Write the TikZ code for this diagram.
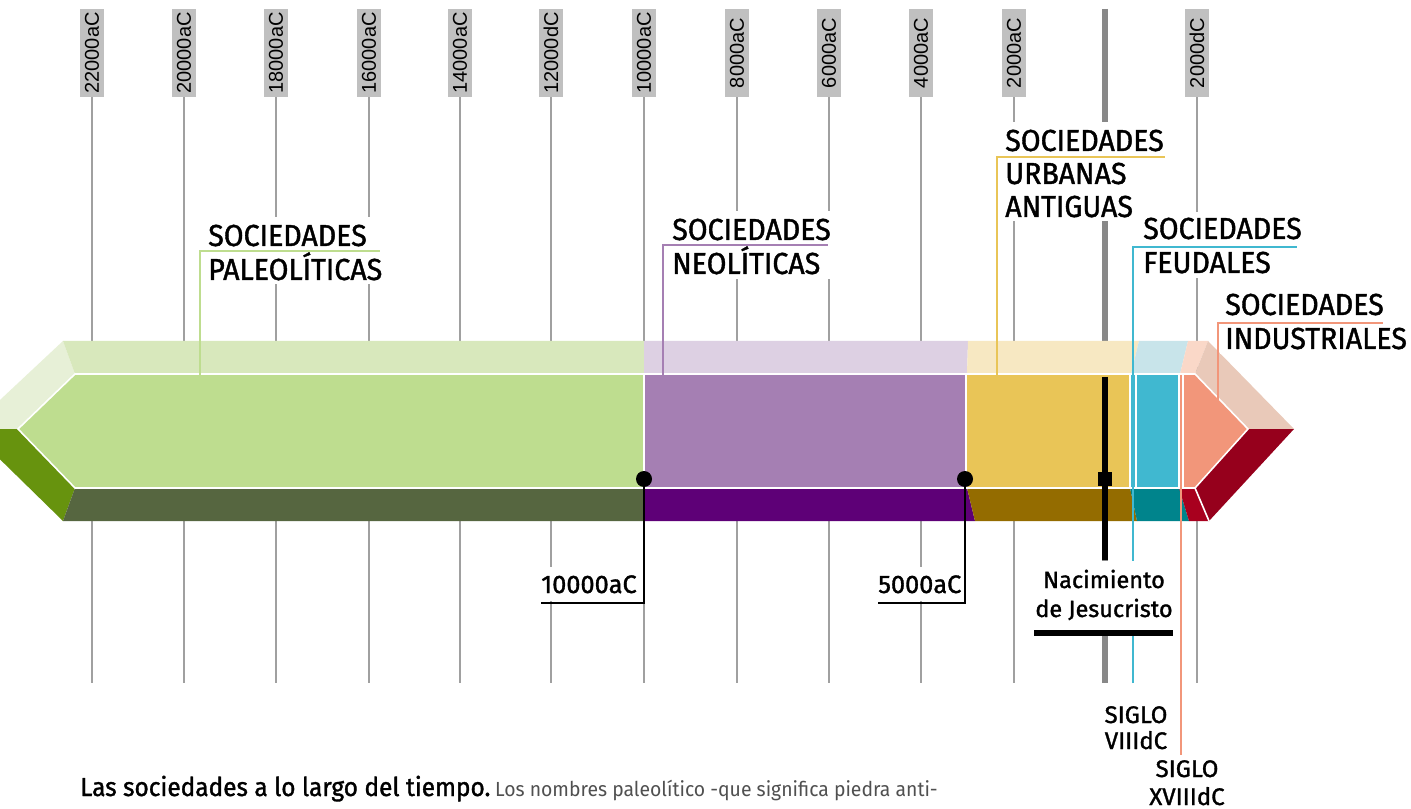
\documentclass[tikz,border=0pt]{standalone}
\usepackage{fontspec}
\setmainfont{Fira Sans}
\newfontfamily\tickfont{Liberation Sans}
\newfontfamily\socfont[FakeBold=1.3, FakeStretch=0.94]{Fira Sans}
\newfontfamily\medfont[FakeBold=1.3]{Fira Sans}
\newfontfamily\capfont[FakeStretch=0.95]{Fira Sans}
\definecolor{palM}{HTML}{BEDD8F}
\definecolor{palT}{HTML}{D8E8BC}
\definecolor{palB}{HTML}{566640}
\definecolor{palLT}{HTML}{E7F0D7}
\definecolor{palLB}{HTML}{67930E}
\definecolor{neoM}{HTML}{A57FB3}
\definecolor{neoT}{HTML}{DDD0E3}
\definecolor{neoB}{HTML}{5E0077}
\definecolor{urbM}{HTML}{E9C557}
\definecolor{urbT}{HTML}{F7E8C2}
\definecolor{urbB}{HTML}{946C00}
\definecolor{feuM}{HTML}{40B8D0}
\definecolor{feuT}{HTML}{C8E4EA}
\definecolor{feuB}{HTML}{00848C}
\definecolor{indM}{HTML}{F2967A}
\definecolor{indT}{HTML}{FAD8C8}
\definecolor{indB}{HTML}{A8001E}
\definecolor{indRT}{HTML}{E9C9B9}
\definecolor{indRB}{HTML}{96001C}
\definecolor{tickgray}{HTML}{A0A0A0}
\definecolor{boxgray}{HTML}{C0C0C0}
\definecolor{axisgray}{HTML}{888888}
\definecolor{capgray}{HTML}{505050}
\tikzset{
  tickline/.style={draw=tickgray, line width=0.9pt},
  tlabel/.style={fill=boxgray, rotate=90, font=\tickfont\fontsize{15}{15}\selectfont,
    minimum width=66pt, minimum height=18pt, inner sep=0pt},
  conn/.style={line width=2pt},
  soc/.style={anchor=base west, inner sep=0pt, font=\socfont\fontsize{22.8}{24}\selectfont},
  yearlbl/.style={inner sep=0pt, font=\medfont\fontsize{19}{20}\selectfont},
  siglo/.style={anchor=base, inner sep=0pt, font=\medfont\fontsize{18}{18}\selectfont},
  nac/.style={anchor=base, inner sep=0pt, font=\medfont\fontsize{17.6}{18}\selectfont},
  sep/.style={draw=white, line width=1.2pt},
  dot/.style={circle, fill=black, minimum size=12pt, inner sep=0pt},
}
\begin{document}
\begin{tikzpicture}[x=0.75pt, y=-0.75pt]
\clip (0,0) rectangle (1411,809);
\fill[white] (0,0) rectangle (1411,809);
% ticks and year boxes
\foreach \x/\t [count=\i] in {92/22000aC,184/20000aC,276/18000aC,369/16000aC,460/14000aC,551/12000dC,644/10000aC,737/8000aC,829/6000aC,921/4000aC,1014/2000aC,1197/2000dC}{
  \node[tlabel] (t\i) at (\x,53) {\t};
  \coordinate (b\i) at (\x,683);
  \draw[tickline] (t\i.west) -- (b\i);
}
\coordinate (gtop) at (1105,9);
\coordinate (gbot) at (1105,683);
\draw[draw=axisgray, line width=4.5pt] (gtop) -- (gbot);
% band: left bevel
\fill[palLT] (-31,429) -- (63,341) -- (75,374) -- (18,429) -- cycle;
\fill[palLB] (-31,429) -- (18,429) -- (75,488) -- (63,521) -- cycle;
% top strip
\fill[palT] (63,341) -- (644,341) -- (644,374) -- (75,374) -- cycle;
\fill[neoT] (644,341) -- (968,341) -- (967,374) -- (644,374) -- cycle;
\fill[urbT] (968,341) -- (1139,341) -- (1131,374) -- (967,374) -- cycle;
\fill[feuT] (1139,341) -- (1188,341) -- (1180,374) -- (1131,374) -- cycle;
\fill[indT] (1188,341) -- (1208,341) -- (1195,374) -- (1180,374) -- cycle;
% right bevel
\fill[indRT] (1208,341) -- (1294,429) -- (1248,429) -- (1195,374) -- cycle;
\fill[indRB] (1195,488) -- (1248,429) -- (1294,429) -- (1209,521) -- cycle;
% bottom strip
\fill[palB] (75,488) -- (644,488) -- (644,521) -- (63,521) -- cycle;
\fill[neoB] (644,488) -- (967,488) -- (975,521) -- (644,521) -- cycle;
\fill[urbB] (967,488) -- (1130,488) -- (1137,521) -- (975,521) -- cycle;
\fill[feuB] (1130,488) -- (1179,488) -- (1189,521) -- (1137,521) -- cycle;
\fill[indB] (1179,488) -- (1195,488) -- (1209,521) -- (1189,521) -- cycle;
% main face
\fill[palM] (18,429) -- (75,374) -- (644,374) -- (644,488) -- (75,488) -- cycle;
\fill[neoM] (644,374) -- (966,374) -- (966,488) -- (644,488) -- cycle;
\fill[urbM] (966,374) -- (1131,374) -- (1131,488) -- (966,488) -- cycle;
\fill[feuM] (1131,374) -- (1180,374) -- (1180,488) -- (1131,488) -- cycle;
\fill[indM] (1180,374) -- (1195,374) -- (1248,429) -- (1195,488) -- (1180,488) -- cycle;
% white edges
\draw[sep] (75,374) -- (18,429) -- (75,488) -- (1195,488) -- (1248,429) -- (1195,374) -- cycle;
\draw[sep] (1195,488) -- (1209,521);
\foreach \x in {644,966,1130,1136,1179,1183}{ \draw[sep] (\x,374) -- (\x,488); }
% white backgrounds of labels
\fill[white] (202,217) rectangle (388,284);
\fill[white] (666,211) rectangle (835,279);
\fill[white] (1000,122) rectangle (1168,221);
\fill[white] (1138,212) rectangle (1303,278);
\fill[white] (1220,288) rectangle (1411,354);
% society labels
\node[soc] (pal1) at (208,246) {SOCIEDADES};
\node[soc] (pal2) at (208,280) {PALEOLÍTICAS};
\node[soc] (neo1) at (672,240) {SOCIEDADES};
\node[soc] (neo2) at (672,274) {NEOLÍTICAS};
\node[soc] (urb1) at (1005,151) {SOCIEDADES};
\node[soc] (urb2) at (1005,184) {URBANAS};
\node[soc] (urb3) at (1005,217) {ANTIGUAS};
\node[soc] (feu1) at (1143,239) {SOCIEDADES};
\node[soc] (feu2) at (1143,273) {FEUDALES};
\node[soc] (ind1) at (1225,315) {SOCIEDADES};
\node[soc] (ind2) at (1225,349) {INDUSTRIALES};
% connectors
\coordinate (palA) at (200,375); \coordinate (palB1) at (200,251); \coordinate (palC) at (380,251);
\draw[conn, draw=palM] (palA) -- (palB1) -- (palC);
\coordinate (neoA) at (663,375); \coordinate (neoB1) at (663,245); \coordinate (neoC) at (828,245);
\draw[conn, draw=neoM] (neoA) -- (neoB1) -- (neoC);
\coordinate (urbA) at (997,375); \coordinate (urbB1) at (997,157); \coordinate (urbC) at (1165,157);
\draw[conn, draw=urbM] (urbA) -- (urbB1) -- (urbC);
\coordinate (feuA) at (1133,683); \coordinate (feuB1) at (1133,247); \coordinate (feuC) at (1297,247);
\draw[conn, draw=feuM] (feuA) -- (feuB1) -- (feuC);
\coordinate (indA) at (1218,401); \coordinate (indB1) at (1218,323); \coordinate (indC) at (1383,323);
\draw[conn, draw=indM] (indA) -- (indB1) -- (indC);
\coordinate (xviiiA) at (1181,375); \coordinate (xviiiB) at (1181,755);
\draw[conn, draw=indM] (xviiiA) -- (xviiiB);
% bottom label backgrounds
\fill[white] (541,567) rectangle (641,601);
\fill[white] (876,567) rectangle (962,601);
\fill[white] (1036,561) rectangle (1172,630);
% year markers
\node[dot] (d1) at (644,479) {};
\coordinate (d1a) at (644,603); \coordinate (d1b) at (541,603);
\draw[conn, draw=black] (d1.center) -- (d1a) -- (d1b);
\node[yearlbl, anchor=base east] (y1) at (637,593) {10000aC};
\node[dot] (d2) at (965,479) {};
\coordinate (d2a) at (965,603); \coordinate (d2b) at (878,603);
\draw[conn, draw=black] (d2.center) -- (d2a) -- (d2b);
\node[yearlbl, anchor=base west] (y2) at (878,593) {5000aC};
% Jesus
\coordinate (jA) at (1105,377); \coordinate (jB) at (1105,560);
\draw[line width=4.2pt] (jA) -- (jB);
\node[fill=black, minimum size=11pt, inner sep=0pt] (sq) at (1105,479) {};
\node[nac] (nac1) at (1104,588) {Nacimiento};
\node[nac] (nac2) at (1104,617) {de Jesucristo};
\coordinate (barL) at (1034,633); \coordinate (barR) at (1173,633);
\draw[line width=5pt] (barL) -- (barR);
% siglos
\node[siglo] (s1) at (1136,723) {SIGLO};
\node[siglo] (s2) at (1136,749) {VIIIdC};
\node[siglo] (s3) at (1187,777) {SIGLO};
\node[siglo] (s4) at (1187,805) {XVIIIdC};
% caption
\node[anchor=base west, inner sep=0pt] (cap) at (80,796) {{\socfont\fontsize{19.5}{20}\selectfont Las sociedades a lo largo del tiempo.} {\capfont\color{capgray}\fontsize{15.3}{16}\selectfont Los nombres paleolítico -que significa piedra anti-}};
\end{tikzpicture}
\end{document}
